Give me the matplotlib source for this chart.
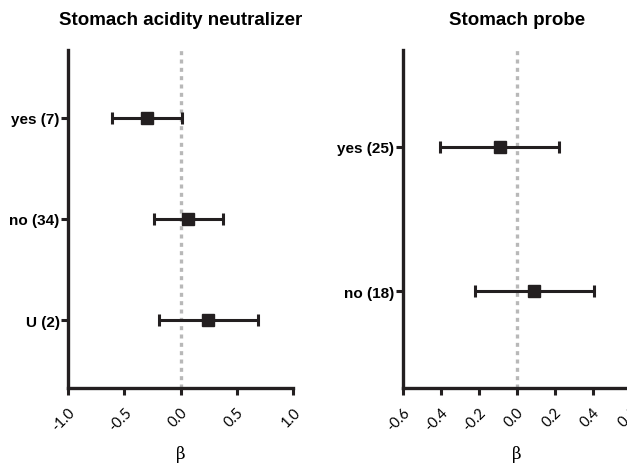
import matplotlib
matplotlib.use("Agg")
import matplotlib.pyplot as plt
from matplotlib.transforms import ScaledTranslation

plt.rcParams['font.family'] = ['Liberation Sans', 'DejaVu Sans']

# Stomach acidity neutralizer
acid_labels = ["yes (7)", "no (34)", "U (2)"]
acid_beta = [-0.30, 0.065, 0.245]
acid_lo = [-0.61, -0.24, -0.19]
acid_hi = [0.015, 0.375, 0.69]

# Stomach probe
probe_labels = ["yes (25)", "no (18)"]
probe_beta = [-0.09, 0.09]
probe_lo = [-0.405, -0.22]
probe_hi = [0.225, 0.405]

acid_ticks = [-1.0, -0.5, 0.0, 0.5, 1.0]
probe_ticks = [-0.6, -0.4, -0.2, 0.0, 0.2, 0.4, 0.6]

W, H = 627, 464
fig = plt.figure(figsize=(W / 100, H / 100), dpi=100)

ink = "#231f20"


def panel(rect, labels, beta, lo, hi, ticks, title):
    ax = fig.add_axes(rect)
    n = len(labels)
    pos = list(range(1, n + 1))
    err = [[b - l for b, l in zip(beta, lo)], [h - b for b, h in zip(beta, hi)]]
    ax.axvline(0, color="#b8b8b8", lw=2.4, ls=(0, (1.2, 1.3)), zorder=1)
    ax.errorbar(beta, pos, xerr=err, fmt="s", color=ink, ms=8.5, lw=2.2,
                capsize=4.5, capthick=2.2, zorder=3)
    ax.set_ylim(n + 0.67, 0.33)
    ax.set_xlim(ticks[0], ticks[-1])
    ax.set_yticks(pos)
    ax.set_yticklabels(labels, fontweight="bold", fontsize=11)
    ax.set_xticks(ticks)
    ax.set_xticklabels([f"{t:.1f}" for t in ticks], rotation=45,
                       ha="right", va="top", rotation_mode="anchor",
                       fontsize=10.5, family=["Lato", "DejaVu Sans"])
    shift = ScaledTranslation(4 / 100, 0, fig.dpi_scale_trans)
    for lab in ax.get_xticklabels():
        lab.set_transform(lab.get_transform() + shift)
    for s in ("top", "right"):
        ax.spines[s].set_visible(False)
    for s in ("left", "bottom"):
        ax.spines[s].set_linewidth(2.4)
        ax.spines[s].set_color(ink)
    ax.tick_params(axis="both", length=5, width=2.2, color=ink)
    ax.tick_params(axis="y", pad=1)
    ax.tick_params(axis="x", pad=7)
    ax.set_xlabel("β", fontsize=12, labelpad=9, family=["DejaVu Serif"])
    ax.set_title(title, fontweight="bold", fontsize=13.5, pad=19)
    return ax


panel([68 / W, 75 / H, 225 / W, 338 / H], acid_labels, acid_beta, acid_lo,
      acid_hi, acid_ticks, "Stomach acidity neutralizer")
panel([402.7 / W, 75 / H, 228 / W, 338 / H], probe_labels, probe_beta,
      probe_lo, probe_hi, probe_ticks, "Stomach probe")

fig.savefig("out.png", dpi=100)
